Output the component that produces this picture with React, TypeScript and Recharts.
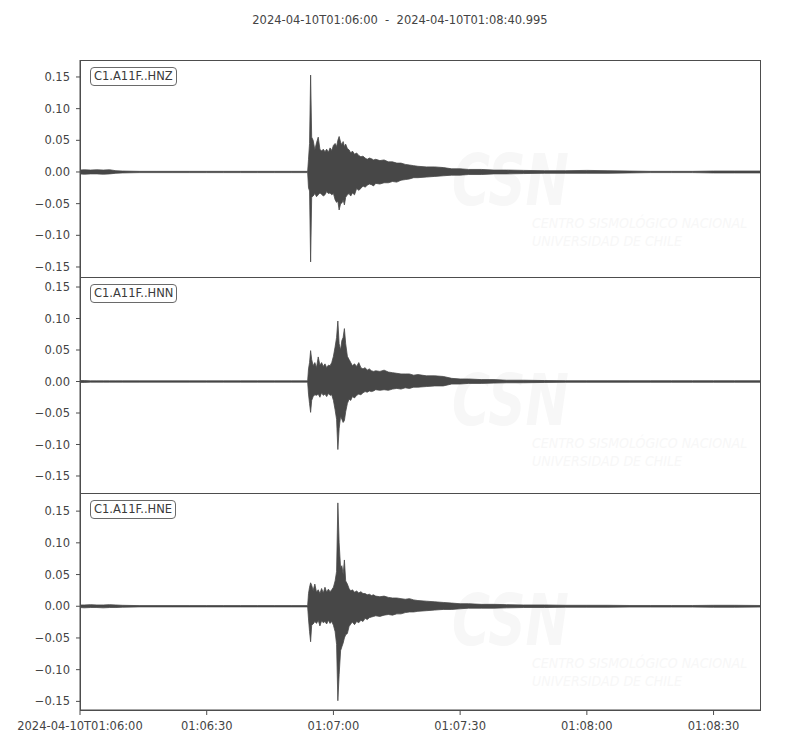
import React from "react";
import { ComposedChart, Area, XAxis, YAxis } from "recharts";

const timeSec = [
  0, 1, 2.5, 4, 5.5, 7, 8.5, 10, 14, 18,
  22, 26, 30, 34, 38, 42, 46, 50, 53.9, 54.1,
  54.35, 54.6, 54.85, 55.2, 55.6, 56.0, 56.4, 56.8, 57.2, 57.6,
  58.0, 58.4, 58.8, 59.2, 59.6, 60.0, 60.4, 60.75, 61.05, 61.35,
  61.7, 62.0, 62.3, 62.6, 62.9, 63.3, 63.7, 64.1, 64.5, 65.0,
  65.5, 66.0, 66.5, 67.0, 67.5, 68.0, 68.5, 69.0, 69.5, 70.0,
  71, 72, 73, 74, 75, 76, 77, 78, 79, 80,
  82, 84, 86, 88, 90, 92, 95, 98, 101, 105,
  110, 115, 120, 125, 130, 135, 140, 145, 150, 155,
  160.995,
];

const hnzHigh = [
  0.003, 0.0035, 0.003, 0.0035, 0.003, 0.0035, 0.002, 0.0015, 0.001, 0.001,
  0.001, 0.001, 0.001, 0.001, 0.001, 0.001, 0.001, 0.001, 0.001, 0.02,
  0.045, 0.153, 0.055, 0.05, 0.035, 0.046, 0.055, 0.036, 0.033, 0.036,
  0.032, 0.036, 0.031, 0.038, 0.034, 0.042, 0.045, 0.04, 0.05, 0.056,
  0.047, 0.043, 0.048, 0.04, 0.044, 0.037, 0.035, 0.03, 0.033, 0.028,
  0.03, 0.026, 0.024, 0.025, 0.022, 0.02, 0.022, 0.021, 0.019, 0.02,
  0.018, 0.019, 0.016, 0.016, 0.014, 0.014, 0.012, 0.011, 0.01, 0.009,
  0.008, 0.008, 0.007, 0.005, 0.005, 0.004, 0.004, 0.003, 0.003, 0.0025,
  0.002, 0.002, 0.0025, 0.002, 0.0015, 0.001, 0.001, 0.001, 0.0015, 0.0015,
  0.0015,
];
const hnzLow = [
  -0.003, -0.0035, -0.003, -0.003, -0.0035, -0.003, -0.002, -0.0015, -0.001, -0.001,
  -0.001, -0.001, -0.001, -0.001, -0.001, -0.001, -0.001, -0.001, -0.001, -0.025,
  -0.03, -0.142, -0.04, -0.038, -0.034, -0.039, -0.036, -0.033, -0.035, -0.038,
  -0.036, -0.031, -0.034, -0.033, -0.036, -0.034, -0.044, -0.048, -0.046, -0.06,
  -0.05, -0.049, -0.044, -0.052, -0.04, -0.036, -0.034, -0.038, -0.033, -0.036,
  -0.026, -0.029, -0.026, -0.022, -0.024, -0.021, -0.019, -0.02, -0.022, -0.018,
  -0.019, -0.017, -0.017, -0.015, -0.016, -0.013, -0.012, -0.011, -0.009, -0.009,
  -0.008, -0.007, -0.006, -0.005, -0.005, -0.004, -0.004, -0.003, -0.003, -0.0025,
  -0.002, -0.002, -0.002, -0.002, -0.0015, -0.001, -0.001, -0.001, -0.0015, -0.0015,
  -0.0015,
];

const hnnHigh = [
  0.0015, 0.0015, 0.001, 0.001, 0.001, 0.001, 0.001, 0.001, 0.001, 0.001,
  0.001, 0.001, 0.001, 0.001, 0.001, 0.001, 0.001, 0.001, 0.001, 0.02,
  0.03, 0.049, 0.035, 0.025, 0.03, 0.022, 0.039, 0.026, 0.03, 0.024,
  0.028, 0.022, 0.026, 0.025, 0.03, 0.04, 0.055, 0.07, 0.096, 0.06,
  0.05, 0.065, 0.07, 0.084, 0.06, 0.04, 0.035, 0.03, 0.025, 0.028,
  0.024, 0.03, 0.022, 0.02, 0.022, 0.018, 0.02, 0.017, 0.016, 0.017,
  0.016, 0.018, 0.015, 0.014, 0.013, 0.012, 0.012, 0.012, 0.01, 0.011,
  0.009, 0.009, 0.008, 0.005, 0.004, 0.004, 0.003, 0.003, 0.002, 0.002,
  0.0015, 0.0012, 0.0012, 0.0012, 0.0012, 0.0012, 0.0012, 0.0012, 0.0012, 0.0012,
  0.0012,
];
const hnnLow = [
  -0.0015, -0.0015, -0.001, -0.001, -0.001, -0.001, -0.001, -0.001, -0.001, -0.001,
  -0.001, -0.001, -0.001, -0.001, -0.001, -0.001, -0.001, -0.001, -0.001, -0.02,
  -0.035, -0.049, -0.03, -0.024, -0.021, -0.022, -0.02, -0.025, -0.018, -0.022,
  -0.02, -0.024, -0.019, -0.022, -0.021, -0.03, -0.045, -0.06, -0.108, -0.075,
  -0.055, -0.06, -0.065, -0.062, -0.048, -0.035, -0.028, -0.03, -0.024, -0.026,
  -0.022, -0.02, -0.021, -0.018, -0.016, -0.017, -0.015, -0.016, -0.015, -0.013,
  -0.014, -0.013, -0.014, -0.012, -0.011, -0.012, -0.01, -0.011, -0.009, -0.009,
  -0.008, -0.007, -0.007, -0.004, -0.004, -0.003, -0.003, -0.0025, -0.002, -0.002,
  -0.0015, -0.0012, -0.0012, -0.0012, -0.0012, -0.0012, -0.0012, -0.0012, -0.0012, -0.0012,
  -0.0012,
];

const hneHigh = [
  0.002, 0.002, 0.0025, 0.002, 0.002, 0.0025, 0.002, 0.0015, 0.001, 0.001,
  0.001, 0.001, 0.001, 0.001, 0.001, 0.001, 0.001, 0.001, 0.001, 0.02,
  0.03, 0.037, 0.033, 0.025, 0.035, 0.022, 0.026, 0.02, 0.028, 0.021,
  0.03, 0.022, 0.027, 0.023, 0.026, 0.03, 0.04, 0.055, 0.163, 0.1,
  0.06, 0.064, 0.05, 0.073, 0.04, 0.035, 0.028, 0.024, 0.026, 0.022,
  0.024, 0.021, 0.023, 0.02, 0.02, 0.018, 0.019, 0.017, 0.018, 0.016,
  0.015, 0.016, 0.014, 0.013, 0.013, 0.012, 0.011, 0.012, 0.01, 0.009,
  0.008, 0.007, 0.006, 0.005, 0.004, 0.004, 0.003, 0.003, 0.0025, 0.002,
  0.002, 0.0015, 0.0015, 0.0015, 0.0012, 0.0012, 0.0012, 0.0012, 0.0015, 0.0015,
  0.0012,
];
const hneLow = [
  -0.002, -0.0025, -0.002, -0.002, -0.0025, -0.002, -0.002, -0.0015, -0.001, -0.001,
  -0.001, -0.001, -0.001, -0.001, -0.001, -0.001, -0.001, -0.001, -0.001, -0.02,
  -0.04, -0.056, -0.03, -0.028, -0.024, -0.027, -0.022, -0.031, -0.023, -0.026,
  -0.024, -0.028, -0.022, -0.027, -0.024, -0.03, -0.04, -0.06, -0.149, -0.108,
  -0.07, -0.064, -0.058, -0.05, -0.045, -0.043, -0.032, -0.028, -0.025, -0.029,
  -0.024, -0.026, -0.022, -0.024, -0.019, -0.021, -0.018, -0.017, -0.016, -0.015,
  -0.016, -0.014, -0.013, -0.014, -0.012, -0.012, -0.01, -0.009, -0.009, -0.008,
  -0.007, -0.006, -0.005, -0.005, -0.004, -0.003, -0.003, -0.003, -0.0025, -0.002,
  -0.002, -0.0015, -0.0015, -0.0015, -0.0012, -0.0012, -0.0012, -0.0012, -0.0015, -0.0015,
  -0.0012,
];

const channelNames = ["C1.A11F..HNZ", "C1.A11F..HNN", "C1.A11F..HNE"];
const yDomainHnz = [-0.1658, 0.1768];
const yDomainHnn = [-0.177, 0.1659];
const yDomainHne = [-0.1636, 0.1786];
const yTicks = [-0.15, -0.1, -0.05, 0, 0.05, 0.1, 0.15];
const xTicks = [0, 30, 60, 90, 120, 150];
const xTickLabels = ["2024-04-10T01:06:00", "01:06:30", "01:07:00", "01:07:30", "01:08:00", "01:08:30"];
const titleText = "2024-04-10T01:06:00  -  2024-04-10T01:08:40.995";
const timeEnd = 160.995;

const FONT = "'DejaVu Sans', sans-serif";
const AXIS = "#4d4d4d";
const TEXT = "#444";
const WAVE = "#474747";
const WM = "#f7f7f7";

const buildRows = (lo: number[], hi: number[]) =>
  timeSec.map((t, i) => ({ t, band: [lo[i], hi[i]] }));

const fmtY = (v: number) => (v < 0 ? "\u2212" : "") + Math.abs(v).toFixed(2);
const fmtX = (v: number) => {
  const i = xTicks.findIndex((x) => Math.abs(x - v) < 1e-6);
  return i >= 0 ? xTickLabels[i] : "";
};

function Panel(props: {
  rows: any[];
  domain: number[];
  top: number;
  height: number;
  marginTop: number;
  marginBottom: number;
  showX: boolean;
}) {
  const { rows, domain, top, height, marginTop, marginBottom, showX } = props;
  return (
    <div style={{ position: "absolute", left: 0, top, width: 800, height }}>
      <ComposedChart
        width={800}
        height={height}
        data={rows}
        margin={{ top: marginTop, right: 40, bottom: marginBottom, left: 0 }}
      >
        <XAxis
          dataKey="t"
          type="number"
          domain={[0, timeEnd]}
          allowDataOverflow
          ticks={xTicks}
          interval={0}
          tickFormatter={fmtX}
          height={showX ? 40 : 0}
          tick={showX ? { fill: TEXT, fontSize: 11.5, fontFamily: FONT } : false}
          tickLine={showX ? { stroke: AXIS } : false}
          tickSize={5}
          tickMargin={7}
          axisLine={{ stroke: AXIS }}
        />
        <YAxis
          type="number"
          domain={domain}
          allowDataOverflow
          ticks={yTicks}
          interval={0}
          width={80}
          tickSize={4}
          tickMargin={6}
          tickFormatter={fmtY}
          tick={{ fill: TEXT, fontSize: 11.5, fontFamily: FONT }}
          tickLine={{ stroke: AXIS }}
          axisLine={{ stroke: AXIS }}
        />
        <Area
          type="linear"
          dataKey="band"
          stroke={WAVE}
          strokeWidth={0.8}
          fill={WAVE}
          fillOpacity={1}
          dot={false}
          activeDot={false}
          isAnimationActive={false}
        />
      </ComposedChart>
    </div>
  );
}

function Frame({ top, height }: { top: number; height: number }) {
  return (
    <div
      style={{
        position: "absolute",
        left: 80,
        top,
        width: 681,
        height: height + 1,
        boxSizing: "border-box",
        border: `1px solid ${AXIS}`,
        pointerEvents: "none",
      }}
    />
  );
}

function Watermark({ top }: { top: number }) {
  return (
    <>
      <div
        style={{
          position: "absolute",
          left: 452,
          top: top,
          fontFamily: FONT,
          fontWeight: "bold",
          fontStyle: "italic",
          fontSize: 72,
          lineHeight: "56px",
          color: WM,
          transform: "scaleX(0.72)",
          transformOrigin: "left top",
          whiteSpace: "nowrap",
        }}
      >
        CSN
      </div>
      <div
        style={{
          position: "absolute",
          left: 532,
          top: top + 62,
          fontFamily: "'DejaVu Sans Condensed', 'DejaVu Sans', sans-serif",
          fontStretch: "condensed",
          fontStyle: "italic",
          fontSize: 14,
          lineHeight: "18px",
          color: WM,
          whiteSpace: "nowrap",
        }}
      >
        <div>CENTRO SISMOLÓGICO NACIONAL</div>
        <div>UNIVERSIDAD DE CHILE</div>
      </div>
    </>
  );
}

function NameBox({ top, name }: { top: number; name: string }) {
  return (
    <div
      style={{
        position: "absolute",
        left: 90,
        top,
        height: 17,
        padding: "0 3px",
        border: "1px solid #6a6a6a",
        borderRadius: 4,
        background: "#fff",
        fontFamily: FONT,
        fontSize: 11.5,
        lineHeight: "17px",
        color: "#3a3a3a",
        whiteSpace: "nowrap",
      }}
    >
      {name}
    </div>
  );
}

export default function App() {
  const rowsZ = buildRows(hnzLow, hnzHigh);
  const rowsN = buildRows(hnnLow, hnnHigh);
  const rowsE = buildRows(hneLow, hneHigh);
  return (
    <div
      style={{
        position: "absolute",
        left: 0,
        top: 0,
        width: 800,
        height: 750,
        background: "#fff",
        overflow: "hidden",
      }}
    >
      <Watermark top={152} />
      <Watermark top={372} />
      <Watermark top={592} />
      <div
        style={{
          position: "absolute",
          left: 0,
          top: 12,
          width: 800,
          textAlign: "center",
          fontFamily: FONT,
          fontSize: 11.5,
          color: TEXT,
          whiteSpace: "pre",
          lineHeight: "16px",
        }}
      >
        {titleText}
      </div>
      <Panel rows={rowsZ} domain={yDomainHnz} top={50} height={237} marginTop={10} marginBottom={10} showX={false} />
      <Panel rows={rowsN} domain={yDomainHnn} top={267} height={236} marginTop={10} marginBottom={10} showX={false} />
      <Panel rows={rowsE} domain={yDomainHne} top={483} height={267} marginTop={10} marginBottom={0} showX={true} />
      <Frame top={60} height={217} />
      <Frame top={277} height={216} />
      <Frame top={493} height={217} />
      <NameBox top={67} name={channelNames[0]} />
      <NameBox top={284} name={channelNames[1]} />
      <NameBox top={500} name={channelNames[2]} />
    </div>
  );
}
